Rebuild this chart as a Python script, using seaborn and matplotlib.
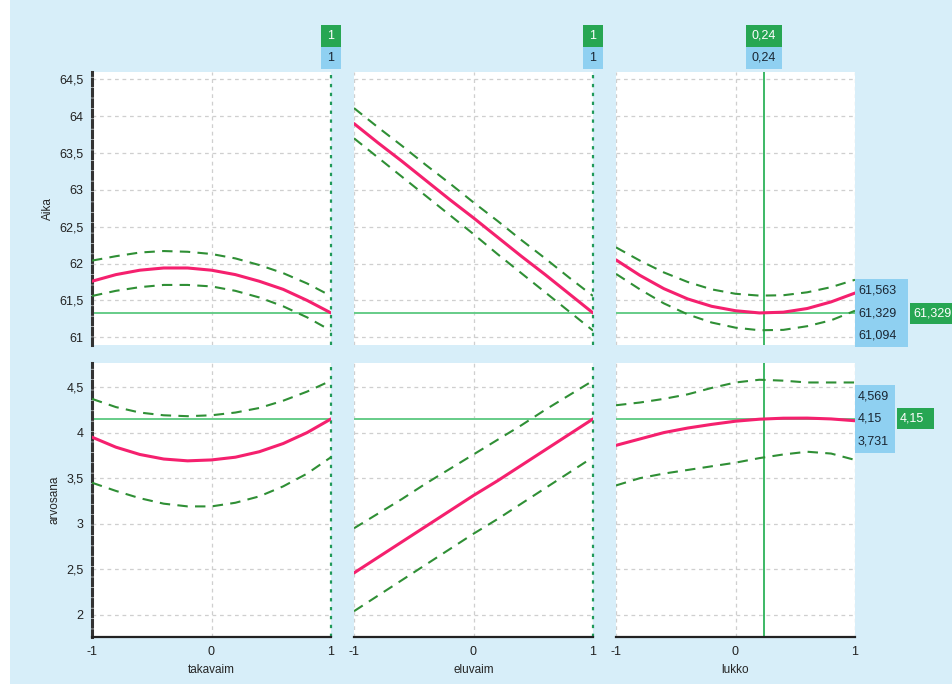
import numpy as np
import matplotlib.pyplot as plt
import seaborn as sb
from matplotlib.patches import Rectangle
from matplotlib.ticker import FuncFormatter

# profiilikuvaaja: ennuste ja luottamusvali kunkin tekijan funktiona
x_levels = [-1, -0.8, -0.6, -0.4, -0.2, 0, 0.2, 0.4, 0.6, 0.8, 1]
factors = ['takavaim', 'eluvaim', 'lukko']
responses = ['Aika', 'arvosana']
current_x = [1, 1, 0.24]
current_x_text = ['1', '1', '0,24']

# Aika
aika_takavaim = [61.76, 61.85, 61.91, 61.94, 61.94, 61.91, 61.85, 61.76, 61.65, 61.50, 61.33]
aika_takavaim_hi = [62.04, 62.10, 62.15, 62.17, 62.16, 62.13, 62.07, 61.98, 61.87, 61.73, 61.56]
aika_takavaim_lo = [61.56, 61.63, 61.68, 61.71, 61.71, 61.69, 61.63, 61.54, 61.42, 61.27, 61.09]
aika_eluvaim = [63.90, 63.64, 63.39, 63.13, 62.87, 62.62, 62.36, 62.10, 61.85, 61.59, 61.33]
aika_eluvaim_hi = [64.11, 63.85, 63.60, 63.34, 63.09, 62.83, 62.58, 62.32, 62.07, 61.81, 61.56]
aika_eluvaim_lo = [63.70, 63.44, 63.18, 62.92, 62.66, 62.40, 62.13, 61.87, 61.61, 61.35, 61.09]
aika_lukko = [62.05, 61.84, 61.66, 61.52, 61.42, 61.36, 61.33, 61.34, 61.39, 61.48, 61.60]
aika_lukko_hi = [62.22, 62.04, 61.88, 61.75, 61.65, 61.59, 61.565, 61.57, 61.61, 61.68, 61.78]
aika_lukko_lo = [61.86, 61.65, 61.46, 61.31, 61.20, 61.13, 61.095, 61.10, 61.15, 61.23, 61.36]

# arvosana
arv_takavaim = [3.95, 3.84, 3.76, 3.71, 3.69, 3.70, 3.73, 3.79, 3.88, 4.00, 4.15]
arv_takavaim_hi = [4.37, 4.28, 4.22, 4.19, 4.18, 4.19, 4.22, 4.27, 4.35, 4.45, 4.57]
arv_takavaim_lo = [3.45, 3.36, 3.28, 3.22, 3.19, 3.19, 3.23, 3.30, 3.41, 3.55, 3.73]
arv_eluvaim = [2.46, 2.63, 2.80, 2.97, 3.14, 3.31, 3.47, 3.64, 3.81, 3.98, 4.15]
arv_eluvaim_hi = [2.95, 3.11, 3.27, 3.44, 3.60, 3.76, 3.92, 4.08, 4.25, 4.41, 4.57]
arv_eluvaim_lo = [2.04, 2.21, 2.38, 2.55, 2.72, 2.89, 3.05, 3.22, 3.39, 3.56, 3.73]
arv_lukko = [3.86, 3.93, 4.00, 4.05, 4.09, 4.125, 4.147, 4.158, 4.159, 4.15, 4.13]
arv_lukko_hi = [4.30, 4.33, 4.37, 4.42, 4.49, 4.55, 4.58, 4.57, 4.55, 4.55, 4.55]
arv_lukko_lo = [3.42, 3.50, 3.55, 3.59, 3.63, 3.67, 3.72, 3.76, 3.79, 3.77, 3.70]

# ennuste nykyisessa pisteessa (keski, yla, ala)
pred_values = [61.329, 4.15]
pred_hi = [61.563, 4.569]
pred_lo = [61.094, 3.731]
pred_text = [['61,563', '61,329', '61,094'], ['4,569', '4,15', '3,731']]

y_ticks = [[61, 61.5, 62, 62.5, 63, 63.5, 64, 64.5], [2, 2.5, 3, 3.5, 4, 4.5]]
y_limits = [(60.89, 64.6), (1.76, 4.76)]
x_ticks = [-1, 0, 1]

curves = [[(aika_takavaim, aika_takavaim_hi, aika_takavaim_lo),
           (aika_eluvaim, aika_eluvaim_hi, aika_eluvaim_lo),
           (aika_lukko, aika_lukko_hi, aika_lukko_lo)],
          [(arv_takavaim, arv_takavaim_hi, arv_takavaim_lo),
           (arv_eluvaim, arv_eluvaim_hi, arv_eluvaim_lo),
           (arv_lukko, arv_lukko_hi, arv_lukko_lo)]]

BG = '#d7eef9'
BLUE = '#8fd0f1'
GREEN = '#27a653'
PINK = '#f5206e'
DASH_GREEN = '#2f8f35'
LINE_GREEN = '#66cc88'

sb.set_theme(style='white')
plt.rcParams['font.family'] = ['Liberation Sans', 'DejaVu Sans']
plt.rcParams['font.size'] = 9

W, H = 952, 684
fig, axes = plt.subplots(2, 3, figsize=(W / 100, H / 100), dpi=100)
fig.patch.set_facecolor(BG)
fig.subplots_adjust(left=92 / W, right=855 / W, top=1 - 72 / H,
                    bottom=1 - 636.7 / H, wspace=23 / 239, hspace=18 / 273.5)

comma = FuncFormatter(lambda v, p: ('%g' % v).replace('.', ','))

for r in range(2):
    for c in range(3):
        ax = axes[r, c]
        ax.set_facecolor('white')
        ax.set_xlim(-1, 1)
        ax.set_ylim(*y_limits[r])
        ax.set_xticks(x_ticks)
        ax.set_yticks(y_ticks[r])
        ax.xaxis.set_major_formatter(comma)
        ax.yaxis.set_major_formatter(comma)
        ax.grid(True, color='#cfcfcf', linestyle=(0, (3, 3)), linewidth=0.9)
        for s in ax.spines.values():
            s.set_visible(False)
        ax.tick_params(axis='both', length=0, labelsize=9, colors='#222222')
        if c == 0:
            ax.spines['left'].set_visible(True)
            ax.spines['left'].set_color('#333333')
            ax.spines['left'].set_linewidth(2.2)
            ax.spines['left'].set_linestyle((0, (2.2, 1.2)))
            ax.tick_params(axis='y', length=4, width=1, color='#333333', pad=2)
            ax.set_ylabel(responses[r], fontsize=8.5, labelpad=4)
        else:
            ax.tick_params(axis='y', labelleft=False)
        if r == 1:
            ax.spines['bottom'].set_visible(True)
            ax.spines['bottom'].set_color('#222222')
            ax.spines['bottom'].set_linewidth(1.6)
            ax.tick_params(axis='x', length=3, width=1, color='#222222', pad=4)
            ax.set_xlabel(factors[c], fontsize=8.5, labelpad=4)
        else:
            ax.tick_params(axis='x', labelbottom=False)

        fit, hi, lo = curves[r][c]
        ax.axhline(pred_values[r], color=LINE_GREEN, lw=1.4, zorder=2)
        if c == 2:
            ax.axvline(current_x[c], color='#3cb865', lw=1.4, zorder=2)
        else:
            ax.axvline(current_x[c], color='#1f9a5a', lw=1.6,
                       linestyle=(0, (1.5, 2.5)), zorder=2, clip_on=False)
        sb.lineplot(x=x_levels, y=hi, ax=ax, color=DASH_GREEN, lw=1.5,
                    linestyle=(0, (5, 3.5)), zorder=3)
        sb.lineplot(x=x_levels, y=lo, ax=ax, color=DASH_GREEN, lw=1.5,
                    linestyle=(0, (5, 3.5)), zorder=3)
        sb.lineplot(x=x_levels, y=fit, ax=ax, color=PINK, lw=2.2, zorder=4)
        ax.set_xlim(-1, 1)
        ax.set_ylim(*y_limits[r])


def tag(x_px, y_px, w_px, h_px, text, fc, tc, ha='left'):
    # x_px, y_px: vasen/keski reuna pikseleina (y alhaalta)
    x0 = x_px if ha == 'left' else x_px - w_px / 2
    fig.add_artist(Rectangle((x0 / W, (y_px - h_px / 2) / H), w_px / W, h_px / H,
                             transform=fig.transFigure, facecolor=fc,
                             edgecolor='none', zorder=5))
    tx = x0 + 3 if ha == 'left' else x_px
    fig.text(tx / W, y_px / H, text, color=tc, fontsize=9,
             ha=ha, va='center', zorder=6)


fig.canvas.draw()
# arvot sarakkeiden ylapuolella
for c in range(3):
    ax = axes[0, c]
    px = ax.transData.transform((current_x[c], y_limits[0][1]))[0]
    w = 20 if len(current_x_text[c]) == 1 else 36
    tag(px, H - 36, w, 22, current_x_text[c], GREEN, 'white', ha='center')
    tag(px, H - 58, w, 22, current_x_text[c], BLUE, '#1a2633', ha='center')

# ennusteet oikeassa reunassa
for r in range(2):
    ax = axes[r, 2]
    xr, yc = ax.transData.transform((1, pred_values[r]))
    bw = 53 if r == 0 else 40
    tag(xr, yc + 22.5, bw, 22.5, pred_text[r][0], BLUE, '#1a2633')
    tag(xr, yc, bw, 22.5, pred_text[r][1], BLUE, '#1a2633')
    tag(xr, yc - 22.5, bw, 22.5, pred_text[r][2], BLUE, '#1a2633')
    tag(xr + bw + 2, yc, 48 if r == 0 else 37, 21, pred_text[r][1], GREEN, 'white')

fig.add_artist(Rectangle((0, 0), 10 / W, 1, transform=fig.transFigure,
                         facecolor='white', edgecolor='none'))

plt.savefig('out.png', dpi=100, facecolor=BG)
